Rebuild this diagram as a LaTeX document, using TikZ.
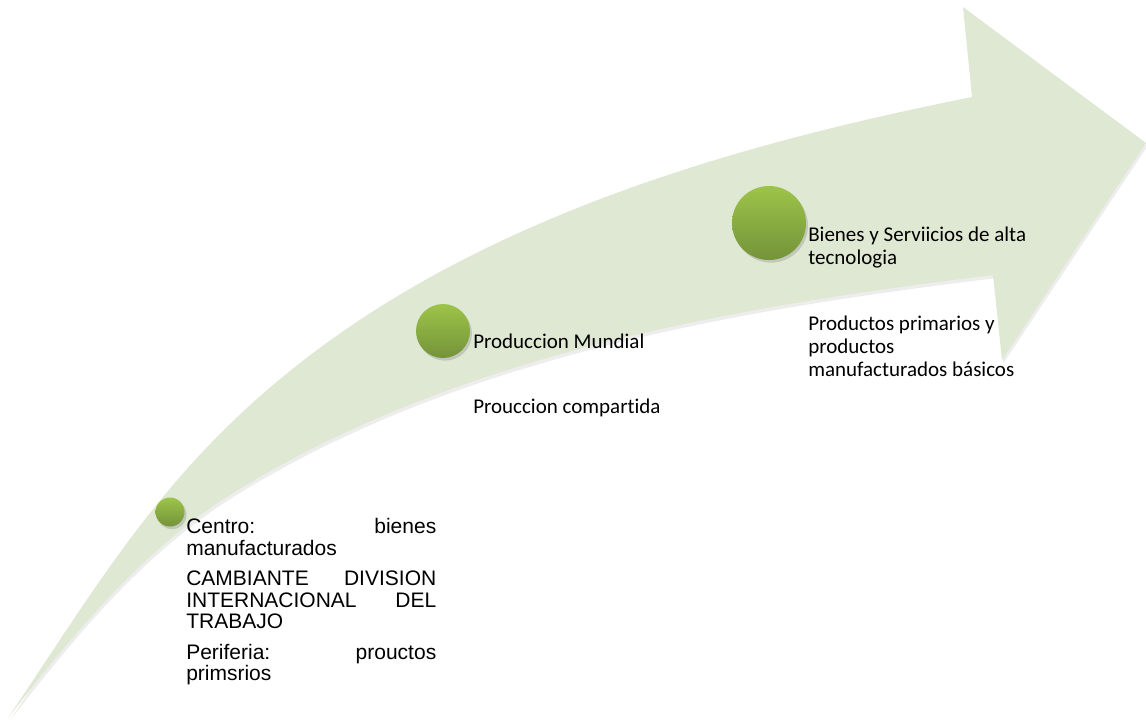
\documentclass[tikz,border=0pt]{standalone}
\usepackage{fontspec}
\setmainfont{Carlito}[Ligatures=NoCommon]
\newfontfamily\arialfont{Liberation Sans}
\usetikzlibrary{shadows}

\definecolor{arrowgreen}{HTML}{DFE8D3}
\definecolor{balltop}{HTML}{9DC449}
\definecolor{ballbottom}{HTML}{74933A}

\tikzset{
    ball/.style={circle, inner sep=0pt, top color=balltop, bottom color=ballbottom,
        drop shadow={opacity=0.3, shadow xshift=1.5pt, shadow yshift=-2pt}},
    labeltext/.style={anchor=base west, inner sep=0pt, align=left,
        font=\fontsize{15.75pt}{17.25pt}\selectfont},
    sidetext/.style={anchor=north west, inner sep=0pt, text width=187.5pt, align=left,
        font=\arialfont\fontsize{15.75pt}{16.3pt}\selectfont}
}

\begin{document}
\begin{tikzpicture}[x=0.75pt, y=-0.75pt]
    \useasboundingbox (0,0) rectangle (1146,719);
    % curved arrow
    \fill [arrowgreen, drop shadow={opacity=0.14, shadow xshift=1pt, shadow yshift=-2.5pt}]
        (8,718) .. controls (103,576) and (166,468) .. (300,363)
        .. controls (489,215) and (737,144) .. (972,97)
        -- (963,7) -- (1146,143) -- (1002,360) -- (993,275)
        .. controls (732,307) and (457,354) .. (233,493)
        .. controls (143,549) and (73,634) .. (8,718) -- cycle;
    % balls
    \node (B1) [ball, minimum size=21.75pt] at (170,512) {};
    \node (B2) [ball, minimum size=40.5pt] at (443,331) {};
    \node (B3) [ball, minimum size=55.5pt] at (769,223) {};
    % texts
    \node (C) [sidetext] at (186,518) {Centro:\hfill bienes\\ manufacturados\\[6.4pt]
        CAMBIANTE\hfill DIVISION\\ INTERNACIONAL\hfill DEL\\ TRABAJO\\[6.4pt]
        Periferia:\hfill prouctos\\ primsrios};
    \node (M) [labeltext] at (473,348) {Produccion Mundial};
    \node (P) [labeltext] at (473,413) {Prouccion compartida};
    \node (A) [labeltext] at (808,264) {Bienes y Serviicios de alta\\tecnologia};
    \node (D) [labeltext] at (808,376) {Productos primarios y\\productos\\manufacturados básicos};
\end{tikzpicture}
\end{document}
